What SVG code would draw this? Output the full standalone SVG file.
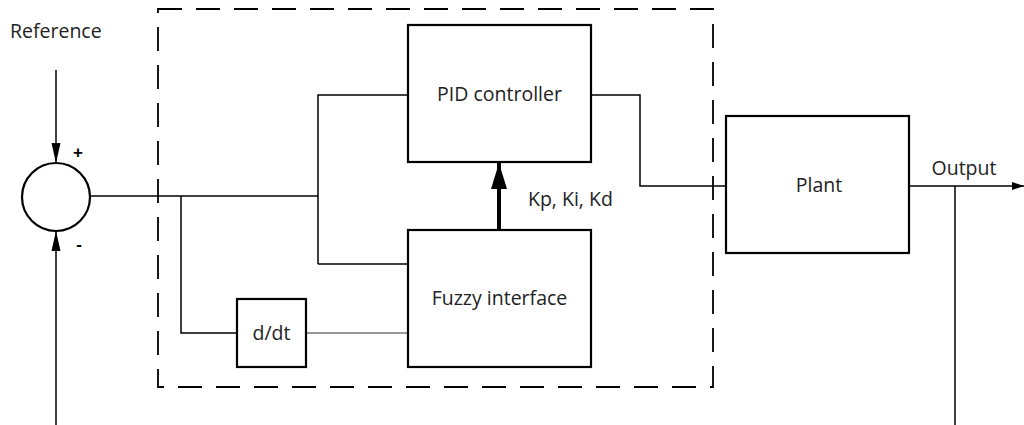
<svg xmlns="http://www.w3.org/2000/svg" width="1024" height="425" viewBox="0 0 1024 425">
<style>
.box{fill:#fff;stroke:#000;stroke-width:2.2}
.ln{fill:none;stroke:#000;stroke-width:1.5}
.lbl{font-family:"Open Sans","Liberation Sans",sans-serif;font-size:19.5px;fill:#222}
.sign{font-family:"Liberation Sans","Open Sans",sans-serif;font-size:17px;font-weight:bold;fill:#000;text-anchor:middle}
.ctr{text-anchor:middle}
</style>
<defs>
<marker id="ah" viewBox="0 0 12 10" refX="12" refY="5" markerWidth="12" markerHeight="10" markerUnits="userSpaceOnUse" orient="auto"><path d="M0,1 L12,5 L0,9 Z" fill="#000"/></marker>
<marker id="ahs" viewBox="0 0 20 10" refX="20" refY="5" markerWidth="20" markerHeight="10" markerUnits="userSpaceOnUse" orient="auto"><path d="M0,0.5 L20,5 L0,9.5 Z" fill="#000"/></marker>
<marker id="ahb" viewBox="0 0 26 16" refX="26" refY="8" markerWidth="26" markerHeight="16" markerUnits="userSpaceOnUse" orient="auto"><path d="M0,0 L26,8 L0,16 Z" fill="#000"/></marker>
</defs>
<rect id="boundary" x="158" y="9" width="555" height="378" fill="none" stroke="#000" stroke-width="1.8" stroke-dasharray="24,14"/>
<g id="connectors">
<line class="ln" x1="56" y1="70" x2="56" y2="163" marker-end="url(#ahs)"/>
<line class="ln" x1="56" y1="425" x2="56" y2="231" marker-end="url(#ahs)"/>
<polyline class="ln" points="90,196 318,196"/>
<polyline class="ln" points="318,264 318,95 408,95"/>
<line class="ln" x1="318" y1="264" x2="408" y2="264"/>
<polyline class="ln" points="181,196 181,333 237,333"/>
<line x1="306" y1="333" x2="408" y2="333" stroke="#777" stroke-width="1.5"/>
<polyline class="ln" points="591,95 640,95 640,186 726,186"/>
<line x1="499" y1="230" x2="499" y2="163" stroke="#000" stroke-width="4" marker-end="url(#ahb)"/>
<line class="ln" x1="909" y1="186" x2="1024" y2="186" marker-end="url(#ah)"/>
<line class="ln" x1="955" y1="186" x2="955" y2="425"/>
</g>
<g id="sum">
<circle cx="56" cy="197" r="34" fill="#fff" stroke="#000" stroke-width="2.2"/>
<text class="sign" x="78" y="158">+</text>
<text class="sign" x="79" y="250">-</text>
</g>
<g id="reference"><text class="lbl" x="10" y="38">Reference</text></g>
<g id="pid">
<rect class="box" x="408" y="25" width="183" height="137"/>
<text class="lbl ctr" x="499.5" y="101">PID controller</text>
</g>
<g id="fuzzy">
<rect class="box" x="408" y="230" width="183" height="137"/>
<text class="lbl ctr" x="499.5" y="305">Fuzzy interface</text>
</g>
<g id="gains"><text class="lbl" x="528" y="206">Kp, Ki, Kd</text></g>
<g id="ddt">
<rect class="box" x="237" y="299" width="69" height="68"/>
<text class="lbl ctr" x="271.5" y="340">d/dt</text>
</g>
<g id="plant">
<rect class="box" x="726" y="116" width="183" height="137"/>
<text class="lbl ctr" x="819" y="192">Plant</text>
</g>
<g id="output"><text class="lbl ctr" x="964" y="175">Output</text></g>
</svg>
